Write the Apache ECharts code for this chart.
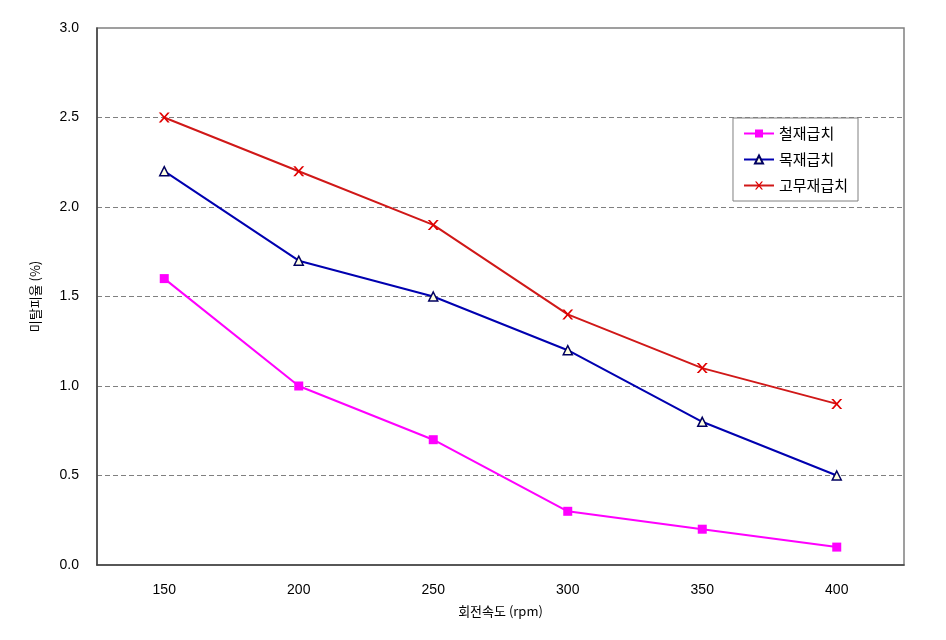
<!DOCTYPE html>
<html><head><meta charset="utf-8">
<script src="https://cdn.jsdelivr.net/npm/echarts@6/dist/echarts.min.js"></script>
<style>html,body{margin:0;padding:0;background:#fff}#c{width:946px;height:640px}</style>
</head><body><div id="c"></div>
<script>
const categories = ['150','200','250','300','350','400'];
const steelValues = [1.6, 1.0, 0.7, 0.3, 0.2, 0.1];
const woodValues = [2.2, 1.7, 1.5, 1.2, 0.8, 0.5];
const rubberValues = [2.5, 2.2, 1.9, 1.4, 1.1, 0.9];
const seriesNames = ['철재급치', '목재급치', '고무재급치'];
const xTitle = '회전속도 (rpm)';
const yTitle = '미탈피율 (%)';

const font = "'Liberation Sans','Noto Sans CJK KR',sans-serif";
const chart = echarts.init(document.getElementById('c'));
chart.setOption({
  animation: false,
  backgroundColor: '#fff',
  textStyle: {fontFamily: font},
  grid: {left: 97, right: 42, top: 28, bottom: 75, show: true, borderColor: '#808080', borderWidth: 1.5},
  legend: {
    right: 88, top: 118, orient: 'vertical', itemGap: 11,
    padding: [8, 10, 8, 10],
    borderColor: '#808080', borderWidth: 1, backgroundColor: '#fff',
    itemWidth: 30, itemHeight: 10,
    textStyle: {fontSize: 15, color: '#000', fontFamily: "'Noto Sans CJK KR',sans-serif"},
    data: seriesNames
  },
  xAxis: {
    type: 'category', data: categories, boundaryGap: true,
    name: xTitle, nameLocation: 'middle', nameGap: 40,
    nameTextStyle: {fontSize: 13, color: '#000', fontFamily: "'Noto Sans CJK KR',sans-serif"},
    axisLine: {lineStyle: {color: '#404040', width: 1.5}},
    axisTick: {inside: true, length: 5, alignWithLabel: false, lineStyle: {color: '#404040'}},
    axisLabel: {fontSize: 14, color: '#000', margin: 18},
    splitLine: {show: false}
  },
  yAxis: {
    type: 'value', min: 0, max: 3, interval: 0.5,
    name: yTitle, nameLocation: 'middle', nameGap: 55, nameRotate: 90,
    nameTextStyle: {fontSize: 13, color: '#000', fontFamily: "'Noto Sans CJK KR',sans-serif"},
    axisLine: {show: true, lineStyle: {color: '#404040', width: 1.5}},
    axisTick: {show: false},
    axisLabel: {fontSize: 14, color: '#000', margin: 18, formatter: v => v.toFixed(1)},
    splitLine: {show: true, showMaxLine: false, showMinLine: false, lineStyle: {color: '#808080', type: [5, 3], width: 1}}
  },
  series: [
    {name: seriesNames[0], type: 'line', data: steelValues, symbol: 'rect', symbolSize: 9,
     lineStyle: {color: '#FF00FF', width: 2}, itemStyle: {color: '#FF00FF'}},
    {name: seriesNames[1], type: 'line', data: woodValues, symbol: 'triangle', symbolSize: 9,
     lineStyle: {color: '#0000B0', width: 2}, itemStyle: {color: '#FFFFE0', borderColor: '#000060', borderWidth: 1.5}},
    {name: seriesNames[2], type: 'line', data: rubberValues,
     symbol: 'path://M0,0 L2,0 L5,3 L8,0 L10,0 L6,4 L6,4 L10,8 L8,8 L5,5 L2,8 L0,8 L4,4 Z', symbolSize: [11, 10],
     lineStyle: {color: '#D01818', width: 2}, itemStyle: {color: '#E00000'}}
  ]
});
</script></body></html>
